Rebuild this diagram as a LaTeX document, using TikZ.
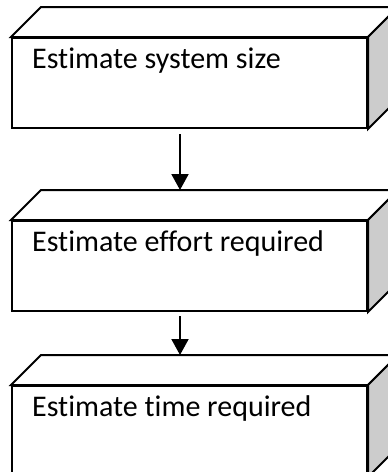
\documentclass[tikz,border=0pt]{standalone}
\usepackage{fontspec}
\setmainfont{Carlito}[Ligatures=NoCommon]
\usetikzlibrary{calc,arrows.meta}
\tikzset{
  front/.style={draw, line width=2pt, fill=white, inner sep=0pt, minimum width=355pt, minimum height=90pt},
  topface/.style={draw, line width=2pt, fill=white, line join=miter},
  sideface/.style={draw, line width=2pt, fill=black!20, line join=miter},
  lbl/.style={anchor=base west, inner sep=0pt, font=\fontsize{30}{36}\selectfont},
  flow/.style={line width=2pt, -{Triangle[length=16pt,width=17pt]}}
}
\newcommand{\cuboid}[1]{%
  \draw[topface] (#1.north west) -- ($(#1.north west)+(30,-30)$) -- ($(#1.north east)+(30,-30)$) -- (#1.north east) -- cycle;
  \draw[sideface] (#1.north east) -- ($(#1.north east)+(30,-30)$) -- ($(#1.south east)+(30,-30)$) -- (#1.south east) -- cycle;
  \coordinate (#1top) at ($(#1.north west)+(30,-30)$);
}
\begin{document}
\begin{tikzpicture}[x=1pt,y=-1pt]
\useasboundingbox (0,0) rectangle (388,472);
\node[front] (b1) at (189.5,83) {};
\node[front] (b2) at (189.5,266) {};
\node[front] (b3) at (189.5,431) {};
\cuboid{b1}
\cuboid{b2}
\cuboid{b3}
\node[lbl] (t1) at ($(b1.north west)+(21,31)$) {Estimate system size};
\node[lbl] (t2) at ($(b2.north west)+(21,31)$) {Estimate effort required};
\node[lbl] (t3) at ($(b3.north west)+(21,31)$) {Estimate time required};
\coordinate (s1) at (180,134);
\coordinate (s2) at (180,316);
\draw[flow] (s1) -- (s1 |- b2top);
\draw[flow] (s2) -- (s2 |- b3top);
\end{tikzpicture}
\end{document}
